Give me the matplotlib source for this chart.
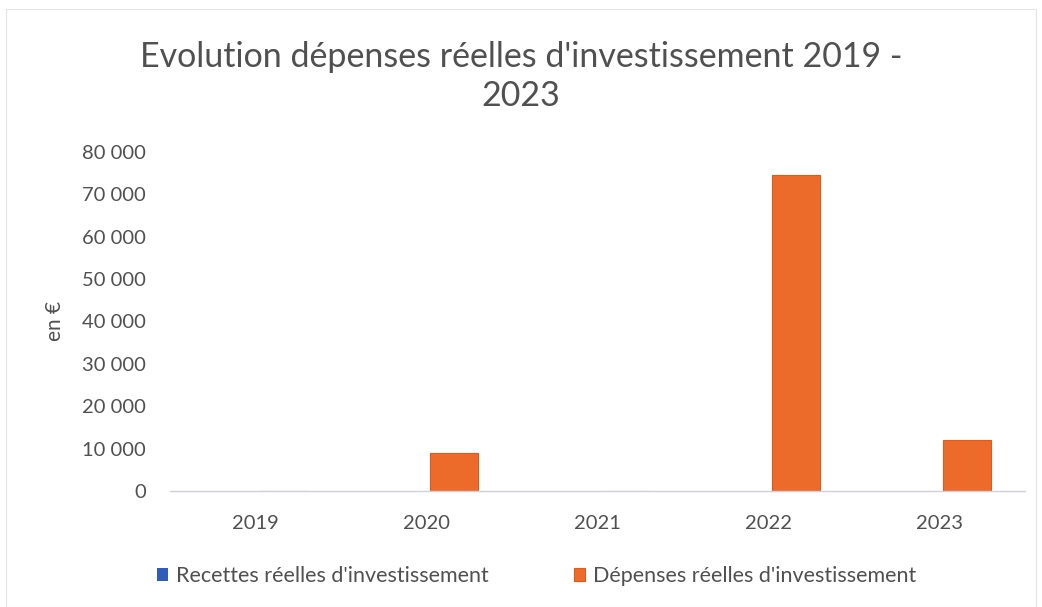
import matplotlib

matplotlib.use("Agg")

import matplotlib.pyplot as plt
import numpy as np
from matplotlib.patches import Rectangle
from matplotlib.ticker import FuncFormatter

years = ["2019", "2020", "2021", "2022", "2023"]
recettes = [0, 0, 0, 0, 0]
depenses = [0, 8900, 0, 74500, 12000]
y_ticks = [0, 10000, 20000, 30000, 40000, 50000, 60000, 70000, 80000]

TEXT = "#505050"
BLUE = "#2f5db8"
ORANGE = "#ed6b2a"

plt.rcParams["font.family"] = ["Lato", "DejaVu Sans"]

fig = plt.figure(figsize=(10.42, 6.07), dpi=100)
ax = fig.add_axes([0.163, 0.191, 0.821, 0.559])

x = np.arange(len(years))
width = 0.28
ax.bar(x - 0.16, recettes, width, color=BLUE, label="Recettes réelles d'investissement")
ax.bar(x + 0.16, depenses, width, color=ORANGE, edgecolor="#e05a1a", linewidth=0.8,
       label="Dépenses réelles d'investissement")

ax.set_xlim(-0.5, len(years) - 0.5)
ax.set_ylim(0, 80000)
ax.set_xticks(x)
ax.set_xticklabels(years)
ax.set_yticks(y_ticks)
ax.yaxis.set_major_formatter(FuncFormatter(lambda v, _: f"{int(v):,}".replace(",", " ")))
ax.tick_params(axis="both", length=0, labelsize=14.5, colors=TEXT, pad=17)
ax.tick_params(axis="x", pad=17)

for side in ["top", "right", "left"]:
    ax.spines[side].set_visible(False)
ax.spines["bottom"].set_color("#d0d0dc")
ax.spines["bottom"].set_linewidth(1)

ax.set_ylabel("en €", fontsize=15, color=TEXT)
ax.yaxis.set_label_coords(-0.122, 0.5)

fig.text(0.5, 0.874, "Evolution dépenses réelles d'investissement 2019 -\n2023",
         ha="center", va="center", fontsize=24.5, color=TEXT, linespacing=1.25)

fig.legend(loc="center", bbox_to_anchor=(0.515, 0.051), ncol=2, frameon=False,
           fontsize=15.5, labelcolor=TEXT, handlelength=0.5, handleheight=0.5,
           handletextpad=0.37, columnspacing=4.0)

fig.patches.append(Rectangle((0.006, 0.0), 0.988, 0.985, transform=fig.transFigure,
                             fill=False, edgecolor="#e4e4e4", linewidth=0.8))

fig.savefig("out.png", dpi=100)
